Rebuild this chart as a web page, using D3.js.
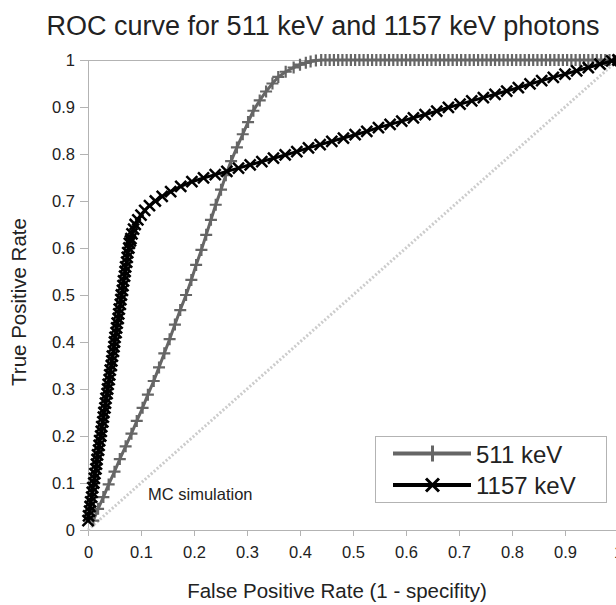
<!DOCTYPE html>
<html>
<head>
<meta charset="utf-8">
<script src="https://cdn.jsdelivr.net/npm/d3@7"></script>
<style>
  html, body { margin: 0; padding: 0; background: #fff; }
  svg { display: block; font-family: "Liberation Sans", Arial, sans-serif; }
</style>
</head>
<body>
<svg id="chart" width="616" height="605"></svg>
<script>
// ---------------- DATA ----------------
const chartTitle = "ROC curve for 511 keV and 1157 keV photons";
const xAxisTitle = "False Positive Rate (1 - specifity)";
const yAxisTitle = "True Positive Rate";
const annotation = "MC simulation";
const seriesNames = ["511 keV", "1157 keV"];
const xTickValues = [0, 0.1, 0.2, 0.3, 0.4, 0.5, 0.6, 0.7, 0.8, 0.9, 1];
const yTickValues = [0, 0.1, 0.2, 0.3, 0.4, 0.5, 0.6, 0.7, 0.8, 0.9, 1];
const chanceFpr = [0, 1];
const chanceTpr = [0, 1];

// 511 keV series (false positive rate, true positive rate)
const fpr511 = [0.010, 0.019, 0.029, 0.039, 0.050, 0.060, 0.071, 0.082, 0.092, 0.103,
  0.113, 0.124, 0.134, 0.144, 0.154, 0.164, 0.174, 0.185, 0.195, 0.204,
  0.214, 0.223, 0.232, 0.241, 0.251, 0.260, 0.270, 0.281, 0.292, 0.302,
  0.312, 0.324, 0.336, 0.348, 0.359, 0.373, 0.388, 0.400, 0.411, 0.420,
  0.430, 0.440,
  0.448, 0.456, 0.464, 0.472, 0.480, 0.488, 0.496, 0.504, 0.512, 0.520,
  0.528, 0.536, 0.544, 0.552, 0.560, 0.568, 0.576, 0.584, 0.592, 0.600,
  0.608, 0.616, 0.624, 0.632, 0.640, 0.648, 0.656, 0.664, 0.672, 0.680,
  0.688, 0.696, 0.704, 0.712, 0.720, 0.728, 0.736, 0.744, 0.752, 0.760,
  0.768, 0.776, 0.784, 0.792, 0.800, 0.808, 0.816, 0.824, 0.832, 0.840,
  0.848, 0.856, 0.864, 0.872, 0.880, 0.888, 0.896, 0.904, 0.912, 0.920,
  0.928, 0.936, 0.944, 0.952, 0.960, 0.968, 0.976, 0.984, 0.992, 1.000];
const tpr511 = [0.020, 0.045, 0.070, 0.097, 0.124, 0.151, 0.178, 0.205, 0.232, 0.260,
  0.288, 0.317, 0.346, 0.376, 0.406, 0.437, 0.468, 0.500, 0.532, 0.564,
  0.596, 0.628, 0.660, 0.692, 0.724, 0.755, 0.785, 0.814, 0.842, 0.868,
  0.892, 0.914, 0.933, 0.950, 0.964, 0.975, 0.984, 0.990, 0.994, 0.997,
  0.999, 1.000,
  1, 1, 1, 1, 1, 1, 1, 1, 1, 1,
  1, 1, 1, 1, 1, 1, 1, 1, 1, 1,
  1, 1, 1, 1, 1, 1, 1, 1, 1, 1,
  1, 1, 1, 1, 1, 1, 1, 1, 1, 1,
  1, 1, 1, 1, 1, 1, 1, 1, 1, 1,
  1, 1, 1, 1, 1, 1, 1, 1, 1, 1,
  1, 1, 1, 1, 1, 1, 1, 1, 1, 1];

// 1157 keV series
const fpr1157 = [0.000, 0.001, 0.003, 0.004, 0.005, 0.007, 0.008, 0.009, 0.011,
  0.012, 0.013, 0.015, 0.016, 0.017, 0.018, 0.020, 0.021, 0.022, 0.024,
  0.025, 0.026, 0.028, 0.029, 0.030, 0.032, 0.033, 0.034, 0.036, 0.037,
  0.038, 0.040, 0.041, 0.042, 0.044, 0.045, 0.046, 0.048, 0.049, 0.050,
  0.051, 0.053, 0.054, 0.055, 0.057, 0.058, 0.059, 0.061, 0.062, 0.063,
  0.065, 0.066, 0.067, 0.069, 0.070, 0.071, 0.073, 0.074, 0.075, 0.077,
  0.078, 0.080, 0.081, 0.083, 0.086, 0.089, 0.094, 0.100, 0.107, 0.116,
  0.127, 0.140, 0.156, 0.175, 0.196, 0.218, 0.240, 0.262, 0.284, 0.306,
  0.328, 0.350, 0.372, 0.394, 0.416, 0.438, 0.460, 0.482, 0.504, 0.526,
  0.548, 0.570, 0.592, 0.614, 0.636, 0.658, 0.680, 0.702, 0.724, 0.746,
  0.768, 0.790, 0.812, 0.834, 0.856, 0.878, 0.900, 0.922, 0.944, 0.966,
  0.988, 1.000];
const tpr1157 = [0.020, 0.030, 0.040, 0.050, 0.060, 0.070, 0.080, 0.090, 0.100,
  0.110, 0.120, 0.130, 0.140, 0.150, 0.160, 0.170, 0.180, 0.190, 0.200,
  0.210, 0.220, 0.230, 0.240, 0.250, 0.260, 0.270, 0.280, 0.290, 0.300,
  0.310, 0.320, 0.330, 0.340, 0.350, 0.360, 0.370, 0.380, 0.390, 0.400,
  0.410, 0.420, 0.430, 0.440, 0.450, 0.460, 0.470, 0.480, 0.490, 0.500,
  0.510, 0.520, 0.530, 0.540, 0.550, 0.560, 0.570, 0.580, 0.590, 0.600,
  0.610, 0.615, 0.620, 0.630, 0.640, 0.650, 0.660, 0.670, 0.680, 0.690,
  0.700, 0.710, 0.720, 0.731, 0.741, 0.749, 0.756, 0.763, 0.770, 0.777,
  0.784, 0.791, 0.798, 0.805, 0.813, 0.820, 0.827, 0.834, 0.841, 0.848,
  0.856, 0.863, 0.870, 0.877, 0.884, 0.891, 0.899, 0.906, 0.913, 0.920,
  0.927, 0.934, 0.941, 0.949, 0.956, 0.963, 0.970, 0.977, 0.984, 0.991,
  0.998, 1.000];

// ---------------- CHART ----------------
const svg = d3.select("#chart");
const x = d3.scaleLinear().domain([0, 1]).range([88, 618]);
const y = d3.scaleLinear().domain([0, 1]).range([530, 60]);
const axisColor = "#b3b3b3";
const textColor = "#222";
const fmt = d3.format("~g");

svg.append("rect").attr("width", 616).attr("height", 605).attr("fill", "#fff");

// top frame line at y = 1
svg.append("line")
  .attr("x1", x(0)).attr("x2", x(1))
  .attr("y1", y(1) + 0.5).attr("y2", y(1) + 0.5)
  .attr("stroke", axisColor).attr("stroke-width", 1);

// Y axis
const yAxis = svg.append("g").attr("transform", `translate(${x(0)},0)`)
  .call(d3.axisLeft(y).tickValues(yTickValues).tickFormat(fmt)
    .tickSize(8).tickSizeOuter(0).tickPadding(5));
// X axis
const xAxis = svg.append("g").attr("transform", `translate(0,${y(0)})`)
  .call(d3.axisBottom(x).tickValues(xTickValues).tickFormat(fmt)
    .tickSize(6).tickSizeOuter(0).tickPadding(10));
[yAxis, xAxis].forEach(g => {
  g.selectAll(".domain").attr("stroke", axisColor);
  g.selectAll(".tick line").attr("stroke", axisColor);
  g.selectAll(".tick text").attr("fill", textColor)
    .style("font-size", "16.5px").style("font-family", "'Liberation Sans', Arial, sans-serif");
});

// chance diagonal
const chance = chanceFpr.map((f, i) => [f, chanceTpr[i]]);
svg.append("path")
  .datum(chance)
  .attr("d", d3.line().x(d => x(d[0])).y(d => y(d[1])))
  .attr("fill", "none").attr("stroke", "#cccccc")
  .attr("stroke-width", 3).attr("stroke-dasharray", "2,2");

const plusPath = s => `M${-s},0H${s}M0,${-s}V${s}`;
const crossPath = s => `M${-s},${-s}L${s},${s}M${-s},${s}L${s},${-s}`;

function drawSeries(fpr, tpr, color, markerPath, lw, mw) {
  const pts = fpr.map((f, i) => [f, tpr[i]]);
  svg.append("path").datum(pts)
    .attr("d", d3.line().x(d => x(d[0])).y(d => y(d[1])))
    .attr("fill", "none").attr("stroke", color).attr("stroke-width", lw)
    .attr("stroke-linejoin", "round");
  svg.append("g").selectAll("path").data(pts).join("path")
    .attr("transform", d => `translate(${x(d[0])},${y(d[1])})`)
    .attr("d", markerPath)
    .attr("fill", "none").attr("stroke", color).attr("stroke-width", mw);
}

drawSeries(fpr511, tpr511, "#666666", plusPath(6), 3, 2.2);
drawSeries(fpr1157, tpr1157, "#000000", crossPath(5.5), 3, 2.5);

// annotation
svg.append("text").attr("x", 148).attr("y", 500)
  .attr("fill", textColor).style("font-size", "16.5px").text(annotation);

// legend
const lg = svg.append("g");
lg.append("rect").attr("x", 375.5).attr("y", 436.5).attr("width", 231).attr("height", 66)
  .attr("fill", "#fff").attr("stroke", axisColor);
const legendItems = [
  { name: seriesNames[0], color: "#666666", marker: plusPath(8), ly: 453.5, ty: 462.5 },
  { name: seriesNames[1], color: "#000000", marker: crossPath(6.5), ly: 485, ty: 494 }
];
legendItems.forEach(it => {
  lg.append("line").attr("x1", 393).attr("x2", 471).attr("y1", it.ly).attr("y2", it.ly)
    .attr("stroke", it.color).attr("stroke-width", 4);
  lg.append("path").attr("transform", `translate(432.5,${it.ly})`).attr("d", it.marker)
    .attr("fill", "none").attr("stroke", it.color).attr("stroke-width", 3);
  lg.append("text").attr("x", 476).attr("y", it.ty).attr("fill", textColor)
    .style("font-size", "24px").text(it.name);
});

// titles
svg.append("text").attr("x", 323).attr("y", 35).attr("text-anchor", "middle")
  .attr("fill", textColor).style("font-size", "27px").text(chartTitle);
svg.append("text").attr("x", 337).attr("y", 598).attr("text-anchor", "middle")
  .attr("fill", textColor).style("font-size", "20.5px").text(xAxisTitle);
svg.append("text").attr("transform", "translate(26,302) rotate(-90)")
  .attr("text-anchor", "middle").attr("fill", textColor)
  .style("font-size", "20.5px").text(yAxisTitle);
</script>
</body>
</html>
